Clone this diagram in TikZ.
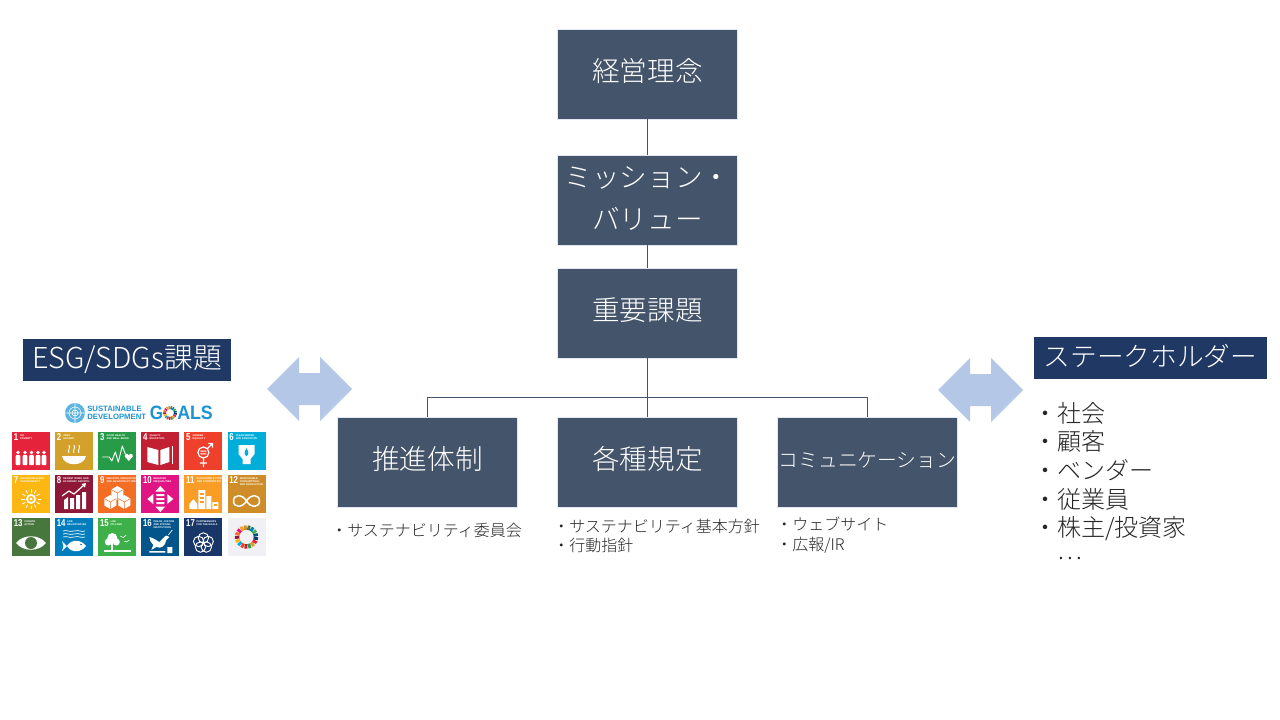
\documentclass[tikz,border=0pt]{standalone}
\usepackage{fontspec}
\newfontfamily\jp{Noto Sans CJK JP}[UprightFont=* Light]
\newfontfamily\la{Liberation Sans}
\definecolor{boxc}{HTML}{44546A}
\definecolor{boxe}{HTML}{E3E8F0}
\definecolor{headc}{HTML}{1F3864}
\definecolor{arrc}{HTML}{B4C7E7}
\definecolor{sdgblue}{HTML}{1A94D2}
\definecolor{s1}{HTML}{E5243B}\definecolor{s2}{HTML}{D3A029}\definecolor{s3}{HTML}{279B48}
\definecolor{s4}{HTML}{C31F33}\definecolor{s5}{HTML}{EF402B}\definecolor{s6}{HTML}{00AED9}
\definecolor{s7}{HTML}{FDB713}\definecolor{s8}{HTML}{8F1838}\definecolor{s9}{HTML}{F36D25}
\definecolor{s10}{HTML}{E11484}\definecolor{s11}{HTML}{F99D26}\definecolor{s12}{HTML}{CF8D2A}
\definecolor{s13}{HTML}{48773E}\definecolor{s14}{HTML}{007DBC}\definecolor{s15}{HTML}{3EB049}
\definecolor{s16}{HTML}{02558B}\definecolor{s17}{HTML}{183668}\definecolor{s18}{HTML}{F1F1F5}
\tikzset{
  bluebox/.style={fill=boxc,draw=boxe,line width=.5pt,minimum width=135.4pt,minimum height=67.4pt,
    text=white,inner sep=0pt,align=center,font=\jp\fontsize{20.7}{32}\selectfont},
  headbox/.style={fill=headc,text=white,inner sep=0pt,align=center,font=\jp\fontsize{20}{24}\selectfont},
  subtext/.style={anchor=west,inner sep=0pt,align=left,text=black!85,font=\jp\fontsize{12}{14.8}\selectfont},
  conn/.style={draw=boxc,line width=1.05pt},
  dbl/.style={fill=arrc,draw=none},
  num/.style={anchor=north west,inner sep=0pt,text=white,font=\la\bfseries\fontsize{7.5}{7.5}\selectfont},
  lab/.style={anchor=north west,inner sep=0pt,text=white,align=left,font=\la\bfseries\fontsize{1.9}{2.4}\selectfont},
  ic/.style={fill=white,draw=none},
  il/.style={draw=white,line width=.7pt,fill=none},
}
\newcommand\raisetext[2]{\raisebox{#1}[\height][\depth]{#2}}
\newcommand\sdgtile[6]{%
  \begin{scope}[shift={(#1,#2)}]
    \fill[#3] (0,0) rectangle (38,38);
    \ifnum#4>9 \def\lx{12}\else\def\lx{8}\fi
    \node[num] (n#4) at (1.5,1.5) {\scalebox{.78}[1]{#4}};
    \node[lab] (l#4) at (\lx,2) {#5};
    #6
  \end{scope}}
\newcommand\sdgring[4]{% cx cy radius width
  \foreach \c [count=\i] in {s1,s2,s3,s4,s5,s6,s7,s8,s9,s10,s11,s12,s13,s14,s15,s16,s17}{
    \pgfmathsetmacro\aa{\i*360/17}
    \pgfmathsetmacro\bb{(\i+0.82)*360/17}
    \draw[\c,line width=#4] ({#1+#3*cos(\aa)},{#2+#3*sin(\aa)}) arc[start angle=\aa,end angle=\bb,radius=#3];
  }}
\begin{document}
\begin{tikzpicture}[x=.75pt,y=-.75pt]
\useasboundingbox (0,0) rectangle (1280,720);
\fill[white] (0,0) rectangle (1280,720);

% main boxes
\node[bluebox] (keiei) at (647.5,74) {\raisetext{2.4pt}{経営理念}};
\node[bluebox] (mission) at (647.5,200) {\raisetext{.8pt}{ミッション・}\\[-.6pt]\raisetext{1.2pt}{バリュー}};
\node[bluebox] (juyo) at (647.5,313) {\raisetext{2.2pt}{重要課題}};
\node[bluebox] (suishin) at (427.5,462) {\raisetext{2pt}{推進体制}};
\node[bluebox] (kakushu) at (647.5,462) {\raisetext{2pt}{各種規定}};
\node[bluebox,font=\jp\fontsize{14.8}{18}\selectfont] (comm) at (867.5,462) {\raisetext{1.5pt}{コミュニケーション}};

% connectors
\coordinate (bus) at (647.5,397.5);
\draw[conn] (keiei.south) -- (mission.north);
\draw[conn] (mission.south) -- (juyo.north);
\draw[conn] (juyo.south) -- (kakushu.north);
\draw[conn] (bus) -| (suishin.north);
\draw[conn] (bus) -| (comm.north);

% sub texts
\node[subtext] (t1) at (331,530) {・サステナビリティ委員会};
\node[subtext] (t2) at (553,536) {・サステナビリティ基本方針\\・行動指針};
\node[subtext] (t3) at (776,535) {・ウェブサイト\\・広報/IR};

% headers
\node[headbox,font=\jp\fontsize{21.6}{24}\selectfont,minimum width=156pt,minimum height=31.5pt] (esg) at (127,360) {ESG/SDGs課題};
\node[headbox,minimum width=174.7pt,minimum height=31.5pt] (stake) at (1150.5,358) {\raisetext{1.5pt}{ステークホルダー}};

% double arrows
\fill[dbl] (267,389) -- (299,357) -- (299,373) -- (320,373) -- (320,357) -- (352,389)
  -- (320,421) -- (320,405) -- (299,405) -- (299,421) -- cycle;
\fill[dbl] (938,390) -- (970,358) -- (970,374) -- (991,374) -- (991,358) -- (1023,390)
  -- (991,422) -- (991,406) -- (970,406) -- (970,422) -- cycle;

% stakeholder list
\node[anchor=north west,inner sep=0pt,align=left,text=black!85,font=\jp\fontsize{18}{21.5}\selectfont] (list) at (1033,402)
  {・社会\\・顧客\\・ベンダー\\・従業員\\・株主/投資家\\[-4.5pt]\phantom{・}…};

% SDG logo
\fill[sdgblue!70] (75,413) circle (10);
\draw[white,line width=.4pt] (75,413) circle (6) (75,413) circle (3) (65,413) -- (85,413) (75,403) -- (75,423);
\node[anchor=west,inner sep=0pt,align=left,text=sdgblue,font=\la\bfseries\fontsize{5.8}{6.4}\selectfont] (sd) at (87,413) {SUSTAINABLE\\DEVELOPMENT};
\node[anchor=west,inner sep=0pt,text=sdgblue,font=\la\bfseries\fontsize{14.5}{15}\selectfont] (gg) at (149.5,413) {\scalebox{.88}[1]{G}};
\node[anchor=west,inner sep=0pt,text=sdgblue,font=\la\bfseries\fontsize{14.5}{15}\selectfont] (als) at (177,413) {\scalebox{.92}[1]{ALS}};
\sdgring{170}{413}{5.4}{2.3pt}

% SDG tiles
\sdgtile{12}{432}{s1}{1}{NO\\POVERTY}{%
  \foreach \px in {6,13,19.5,26,32}{\fill[white] (\px,20.5) circle (1.8);
    \fill[white,rounded corners=.6] (\px-2.3,23) rectangle (\px+2.3,33);}}
\sdgtile{55}{432}{s2}{2}{ZERO\\HUNGER}{%
  \fill[white] (7,24) .. controls (9,35) and (29,35) .. (31,24) -- cycle;
  \foreach \px in {14,19,24}{\draw[il] (\px,21) .. controls (\px-2,18.5) and (\px+2,16.5) .. (\px,13);}}
\sdgtile{98.3}{432}{s3}{3}{GOOD HEALTH\\AND WELL-BEING}{%
  \draw[il,line join=round] (4,25) -- (11,25) -- (13.5,29) -- (17,20) -- (20,30) -- (24,14) -- (27,22);
  \fill[white] (30.5,29) -- (26.5,24.5) .. controls (26,21) and (30,21) .. (30.5,23.5) .. controls (31,21) and (35,21) .. (34.5,24.5) -- cycle;}
\sdgtile{141.3}{432}{s4}{4}{QUALITY\\EDUCATION}{%
  \fill[white] (6,15) -- (17,18) -- (17,33) -- (6,30) -- cycle;
  \fill[white] (19,18) -- (28,15) -- (28,30) -- (19,33) -- cycle;
  \fill[white] (30.5,14) rectangle (32,32);}
\sdgtile{184.4}{432}{s5}{5}{GENDER\\EQUALITY}{%
  \draw[white,line width=.9pt] (19,20.5) circle (5.5) (19,26) -- (19,35) (15.5,31) -- (22.5,31) (23,16.5) -- (28,11.5) (24,11.5) -- (28,11.5) -- (28,15.5);
  \fill[white] (16,18.7) rectangle (22,19.7) (16,21.3) rectangle (22,22.3);}
\sdgtile{227.5}{432}{s6}{6}{CLEAN WATER\\AND SANITATION}{%
  \fill[white] (11,13) -- (27,13) -- (27,22) -- (23,27) -- (23,32) -- (15,32) -- (15,27) -- (11,22) -- cycle;
  \fill[s6] (19,16) .. controls (21,20) and (22,22) .. (19,24) .. controls (16,22) and (17,20) .. (19,16) -- cycle;}
\sdgtile{12}{475}{s7}{7}{AFFORDABLE AND\\CLEAN ENERGY}{%
  \fill[white] (19,24) circle (5); \fill[s7] (19,24) circle (3); \fill[white] (19,24) circle (1.6);
  \foreach \a in {0,30,...,330}{\draw[white,line width=.6pt] ({19+6.5*cos(\a)},{24+6.5*sin(\a)}) -- ({19+10*cos(\a)},{24+10*sin(\a)});}}
\sdgtile{55}{475}{s8}{8}{DECENT WORK AND\\ECONOMIC GROWTH}{%
  \fill[white] (9,25) -- (13,22) -- (13,34) -- (9,34) -- cycle (15,23) rectangle (19,34) (21,20) rectangle (25,34) (27,17) rectangle (31,34);
  \draw[white,line width=.9pt] (7,21) -- (14,16) -- (19,19) -- (29,10);
  \fill[white] (31,8) -- (26.5,9) -- (30,12.5) -- cycle;}
\sdgtile{98.3}{475}{s9}{9}{INDUSTRY, INNOVATION\\AND INFRASTRUCTURE}{%
  \foreach \cx/\cy in {19/18,12/27,26/27}{
    \fill[white] (\cx-6,\cy-3.5) -- (\cx,\cy-7) -- (\cx+6,\cy-3.5) -- (\cx+6,\cy+3.5) -- (\cx,\cy+7) -- (\cx-6,\cy+3.5) -- cycle;
    \draw[s9,line width=.4pt] (\cx-6,\cy-3.5) -- (\cx,\cy) -- (\cx+6,\cy-3.5) (\cx,\cy) -- (\cx,\cy+7);}}
\sdgtile{141.3}{475}{s10}{10}{REDUCED\\INEQUALITIES}{%
  \fill[white] (15,19) rectangle (23,21) (15,23) rectangle (23,25) (15,27) rectangle (23,29);
  \fill[white] (19,11) -- (24,16.5) -- (14,16.5) -- cycle (19,37) -- (24,31.5) -- (14,31.5) -- cycle
    (6,24) -- (12,19) -- (12,29) -- cycle (32,24) -- (26,19) -- (26,29) -- cycle;}
\sdgtile{184.4}{475}{s11}{11}{SUSTAINABLE CITIES\\AND COMMUNITIES}{%
  \fill[white] (14,15) rectangle (21,34) (22,21) rectangle (27,34) (28,27) rectangle (34,34);
  \fill[white] (5,29) -- (9,24) -- (13,29) -- (13,34) -- (5,34) -- cycle;
  \foreach \wy in {18,22,26}{\fill[s11] (15.5,\wy) rectangle (19.5,\wy+1.5);}
  \fill[s11] (29.5,29) rectangle (32.5,31);}
\sdgtile{227.5}{475}{s12}{12}{RESPONSIBLE\\CONSUMPTION\\AND PRODUCTION}{%
  \draw[white,line width=1.1pt] (19,26) .. controls (15,19) and (6,19) .. (6,26) .. controls (6,33) and (15,33) .. (19,26) .. controls (23,19) and (32,19) .. (32,26) .. controls (32,33) and (23,33) .. (19,26) -- cycle;}
\sdgtile{12}{518}{s13}{13}{CLIMATE\\ACTION}{%
  \fill[white] (4,25) .. controls (11,16) and (27,16) .. (34,25) .. controls (27,34) and (11,34) .. (4,25) -- cycle;
  \fill[s13] (19,25) circle (6);}
\sdgtile{55}{518}{s14}{14}{LIFE\\BELOW WATER}{%
  \foreach \wy in {13,16,19}{\draw[white,line width=.5pt] (8,\wy) .. controls (12,\wy-1.5) and (14,\wy+1.5) .. (19,\wy) .. controls (24,\wy-1.5) and (26,\wy+1.5) .. (30,\wy);}
  \fill[white] (12,28) .. controls (16,21) and (26,21) .. (31,28) .. controls (26,35) and (16,35) .. (12,28) -- (7,33) -- (8.5,28) -- (7,23) -- cycle;
  \fill[s14] (26,26.5) circle (.8);}
\sdgtile{98.3}{518}{s15}{15}{LIFE\\ON LAND}{%
  \fill[white] (14,20) circle (5) (10,24) circle (3.5) (18,24) circle (3.5);
  \fill[white] (13,25) rectangle (15,32);
  \fill[white] (6,32) rectangle (33,33.5);
  \draw[white,line width=.4pt] (22,18) -- (25,19.5) -- (28,17) (26,23) -- (28,24) -- (31,22);}
\sdgtile{141.3}{518}{s16}{16}{PEACE, JUSTICE\\AND STRONG\\INSTITUTIONS}{%
  \fill[white] (8,19) .. controls (12,20) and (15,22) .. (18,24) -- (22,20) .. controls (24,17) and (27,17) .. (28,19) -- (25,22) .. controls (24,28) and (20,31) .. (15,29) -- (10,32) -- (12,27) .. controls (10,25) and (8,22) .. (8,19) -- cycle;
  \draw[white,line width=.5pt] (27,17) -- (31,12);
  \fill[white] (8,33) rectangle (24,34.5) (26,29) rectangle (31,35);}
\sdgtile{184.4}{518}{s17}{17}{PARTNERSHIPS\\FOR THE GOALS}{%
  \foreach \a in {-90,-18,54,126,198}{\draw[white,line width=.7pt] ({19+5*cos(\a)},{25+5*sin(\a)}) circle (5.2);}}
\begin{scope}[shift={(227.5,518)}]
  \fill[s18] (0,0) rectangle (38,38);
  \sdgring{19}{19}{9.5}{3.4pt}
\end{scope}
\end{tikzpicture}
\end{document}
